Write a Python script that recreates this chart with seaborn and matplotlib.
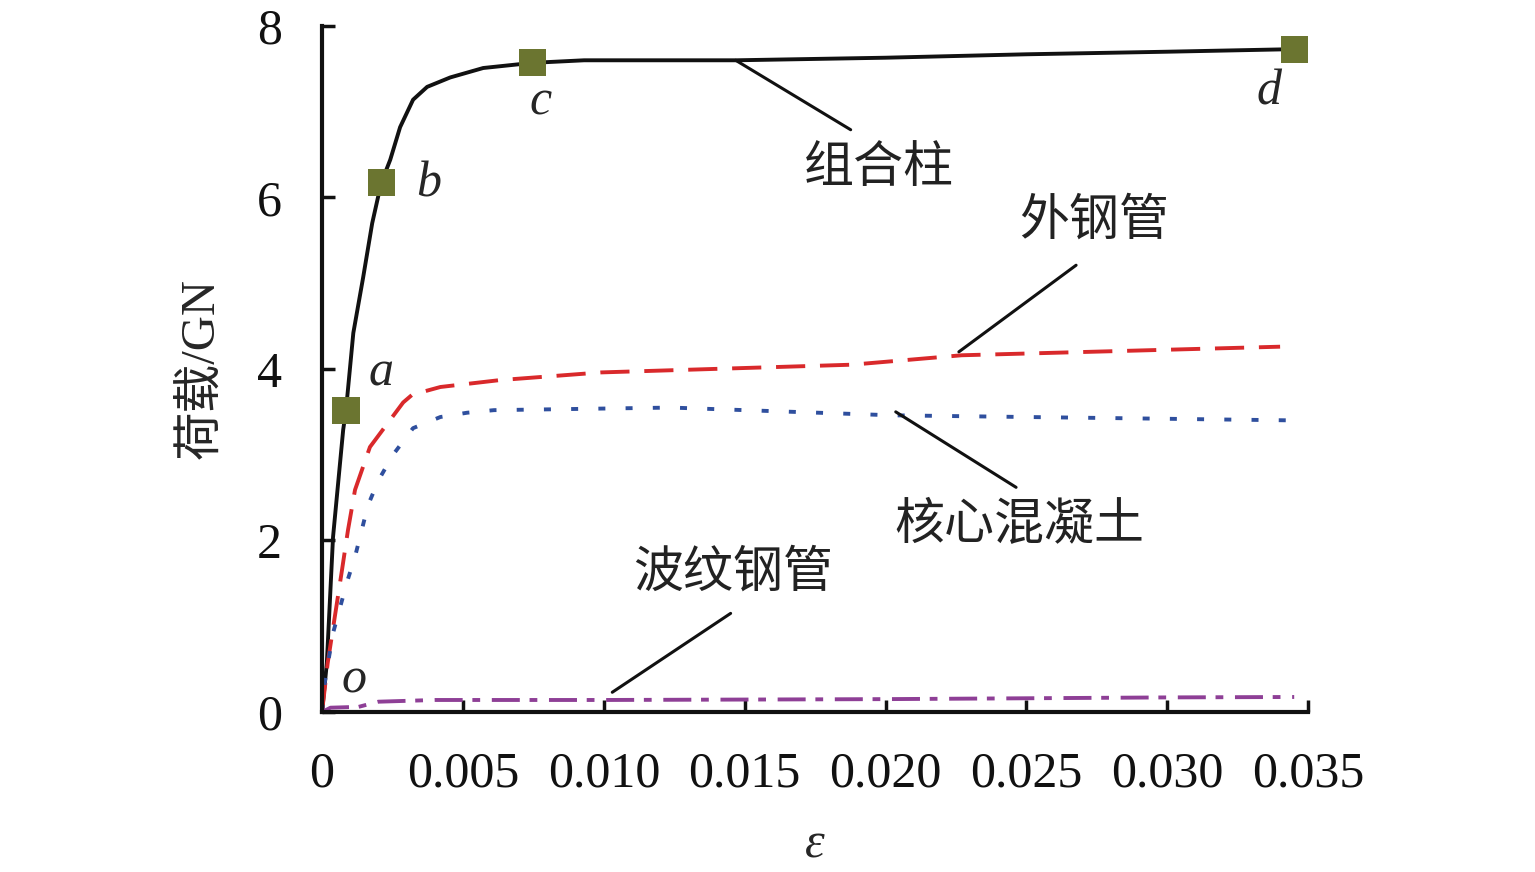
import numpy as np
import pandas as pd
import matplotlib
matplotlib.use('Agg')
import matplotlib.pyplot as plt
import seaborn as sns

# Curve data (strain, load in GN)
column_x = [0, 0.00017, 0.00039, 0.00075, 0.00085, 0.00111, 0.00146, 0.00178, 0.0021, 0.00242,
            0.00277, 0.00323, 0.00373, 0.00455, 0.00572, 0.00746, 0.0093, 0.0147, 0.020, 0.025,
            0.030, 0.0345]
column_y = [0, 0.57, 2.04, 3.29, 3.52, 4.42, 5.07, 5.70, 6.17, 6.44,
            6.82, 7.14, 7.29, 7.40, 7.51, 7.57, 7.60, 7.60, 7.63, 7.67,
            7.70, 7.73]

outer_x = [0, 0.0002, 0.00071, 0.00092, 0.00117, 0.0017, 0.00288, 0.0032, 0.0042, 0.0063,
           0.0099, 0.0188, 0.0227, 0.034]
outer_y = [0, 0.57, 1.66, 2.12, 2.59, 3.09, 3.61, 3.70, 3.79, 3.87,
           3.96, 4.05, 4.16, 4.26]

core_x = [0, 0.0001, 0.00039, 0.00089, 0.00117, 0.00163, 0.002, 0.00252, 0.00323, 0.0042,
          0.00515, 0.0061, 0.0124, 0.0202, 0.0346]
core_y = [0, 0.35, 0.92, 1.52, 1.81, 2.41, 2.70, 3.00, 3.31, 3.44,
          3.49, 3.52, 3.55, 3.46, 3.40]

corr_x = [0, 0.0003, 0.0013, 0.002, 0.004, 0.010, 0.020, 0.030, 0.0345]
corr_y = [0, 0.05, 0.06, 0.12, 0.14, 0.14, 0.15, 0.17, 0.175]

# key points a, b, c, d on the column curve
key_labels = ['a', 'b', 'c', 'd']
key_x = [0.00085, 0.0021, 0.00746, 0.0345]
key_y = [3.52, 6.17, 7.57, 7.73]

x_ticks = [0, 0.005, 0.010, 0.015, 0.020, 0.025, 0.030, 0.035]
x_tick_labels = ['0', '0.005', '0.010', '0.015', '0.020', '0.025', '0.030', '0.035']
y_ticks = [0, 2, 4, 6, 8]

sns.set_style('ticks')
plt.rcParams['font.family'] = ['Liberation Serif', 'Noto Sans CJK SC', 'DejaVu Sans']

fig = plt.figure(figsize=(15.35, 8.72), dpi=100)
ax = fig.add_axes([0.2098, 0.1835, 0.6425, 0.7867])

lw = 2.8
sns.lineplot(x=column_x, y=column_y, ax=ax, color='#111111', lw=lw, sort=False, estimator=None)
sns.lineplot(x=outer_x, y=outer_y, ax=ax, color='#d9292b', lw=lw, sort=False, estimator=None,
             linestyle=(0, (7.5, 3.8)))
sns.lineplot(x=core_x, y=core_y, ax=ax, color='#2f4f9e', lw=lw, sort=False, estimator=None,
             linestyle=(0, (1.8, 5.2)))
sns.lineplot(x=corr_x, y=corr_y, ax=ax, color='#8e3f96', lw=lw, sort=False, estimator=None,
             linestyle=(0, (7.2, 2.5, 2.0, 3.0)))
sns.scatterplot(x=key_x, y=key_y, ax=ax, marker='s', s=380, color='#6b7530',
                edgecolor='none', zorder=5)

# point labels
lab_pos = {'a': (0.0021, 3.95), 'b': (0.00377, 6.16), 'c': (0.00775, 7.11), 'd': (0.0336, 7.23)}
for k in key_labels:
    ax.text(lab_pos[k][0], lab_pos[k][1], k, fontsize=36, style='italic',
            ha='center', va='center')
ax.text(0.00114, 0.37, 'o', fontsize=36, style='italic', ha='center', va='center')

# leader lines and curve names
leaders = [
    ('组合柱', (0.01468, 7.60), (0.01876, 6.79), (0.01976, 6.32)),
    ('外钢管', (0.0226, 4.20), (0.02676, 5.21), (0.0274, 5.71)),
    ('核心混凝土', (0.02036, 3.50), (0.02463, 2.62), (0.02473, 2.16)),
    ('波纹钢管', (0.0103, 0.23), (0.0145, 1.15), (0.0146, 1.60)),
]
for name, p0, p1, tp in leaders:
    ax.annotate('', xy=p0, xytext=p1,
                arrowprops=dict(arrowstyle='-', lw=2.2, color='#111111', shrinkA=0, shrinkB=0))
    ax.text(tp[0], tp[1], name, fontsize=36, ha='center', va='center', color='#222222')

ax.set_xlim(0, 0.035)
ax.set_ylim(0, 8)
ax.set_xticks(x_ticks)
ax.set_xticklabels(x_tick_labels)
ax.set_yticks(y_ticks)
ax.tick_params(direction='in', length=9, width=2.5, labelsize=36, colors='#111111')
ax.tick_params(axis='x', pad=28)
ax.tick_params(axis='y', pad=29)
sns.despine(ax=ax)
for s in ['left', 'bottom']:
    ax.spines[s].set_linewidth(3)
    ax.spines[s].set_color('#111111')

ax.set_xlabel('ε', fontsize=36, style='italic', labelpad=18)
ax.set_ylabel('荷载/GN', fontsize=35, labelpad=24)

fig.savefig('out.png', dpi=100)
